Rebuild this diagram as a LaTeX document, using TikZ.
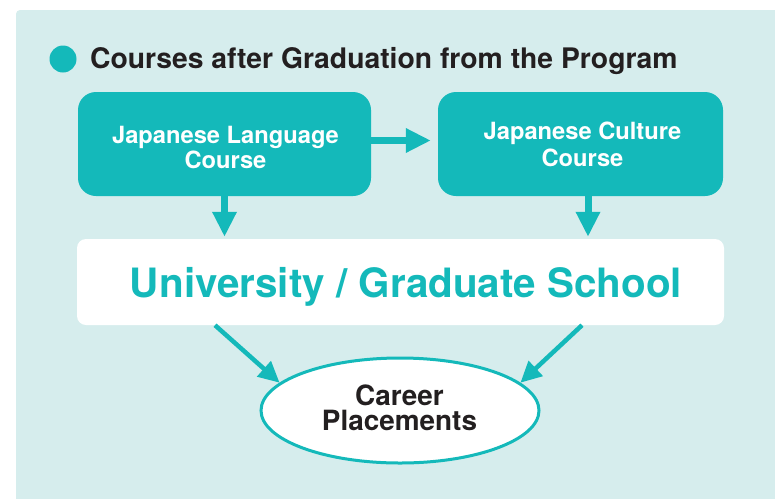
\documentclass[tikz,border=0pt]{standalone}
\usepackage{fontspec}
\setmainfont{TeX Gyre Heros}
\usetikzlibrary{arrows.meta,shapes.geometric,calc}
\definecolor{teal1}{HTML}{14B9BA}
\definecolor{panel}{HTML}{D6EDED}
\definecolor{ink}{HTML}{231F20}
\begin{document}
\begin{tikzpicture}[x=1pt,y=-1pt,
  coursebox/.style={fill=teal1,rounded corners=18pt,minimum width=#1,minimum height=104pt,inner sep=0pt},
  boxtext/.style={text=white,font=\fontsize{23.7}{#1}\selectfont\bfseries,align=center,inner sep=0pt,anchor=base},
  bigarrow/.style={draw=teal1,line width=7pt,-{Triangle[length=25pt,width=23pt]}},
  diagarrow/.style={draw=teal1,line width=4.5pt,-{Triangle[length=21pt,width=20pt]}}]
\useasboundingbox (0,0) rectangle (775,498);
\fill[white] (0,0) rectangle (775,498);
\fill[panel,rounded corners=4pt] (16,10) -- (790,10) -- (790,510) -- (16,510) -- cycle;
\fill[panel] (700,10) rectangle (775,498) (16,480) rectangle (775,498);
% title
\node[circle,fill=teal1,minimum size=27pt,inner sep=0pt] (dot) at (63,59) {};
\node[anchor=base west,inner sep=0pt,text=ink,font=\fontsize{28.3}{30}\selectfont\bfseries] (title) at (90,68) {Courses after Graduation from the Program};
% boxes
\node[coursebox=293pt] (b1) at (224.5,144) {};
\node[coursebox=285pt] (b2) at (580.5,144) {};
\node[boxtext=25.5pt] (b1t) at (225.5,168.5) {Japanese Language\\Course};
\node[boxtext=27pt] (b2t) at (582.5,166.5) {Japanese Culture\\Course};
\node[fill=white,rounded corners=9pt,minimum width=647pt,minimum height=86pt,inner sep=0pt] (w) at (400.5,282) {};
\node[text=teal1,font=\fontsize{40.4}{44}\selectfont\bfseries,inner sep=0pt,anchor=base] (wt) at (406,297) {University / Graduate School};
\node[ellipse,draw=teal1,line width=3pt,fill=white,minimum width=278pt,minimum height=105pt,inner sep=0pt] (e) at (400,410.5) {};
\node[text=ink,font=\fontsize{27.9}{25}\selectfont\bfseries,align=center,inner sep=0pt,anchor=base] (et) at (399.5,430) {Career\\Placements};
% arrows
\draw[bigarrow] (b1.east |- 0,140.5) -- ($(b2.west |- 0,140.5)+(-7,0)$);
\draw[bigarrow] (b1.south) -- ($(b1.south |- w.north)+(0,-2)$);
\draw[bigarrow] ($(b2.south)+(7.5,0)$) -- ($(b2.south |- w.north)+(7.5,-2)$);
\draw[diagarrow] (w.south -| 215,0) -- (e.167);
\draw[diagarrow] (w.south -| 582,0) -- (e.13);
\end{tikzpicture}
\end{document}
